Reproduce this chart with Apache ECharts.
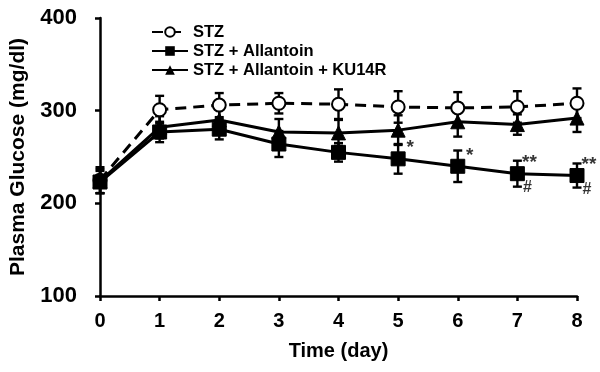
<!DOCTYPE html>
<html>
<head>
<meta charset="utf-8">
<script src="https://cdn.jsdelivr.net/npm/echarts@6/dist/echarts.min.js"></script>
<style>
html,body{margin:0;padding:0;background:#fff;}
#chart{width:600px;height:372px;}
</style>
</head>
<body>
<div id="chart"></div>
<script>
// ---- data ----
var days = [0, 1, 2, 3, 4, 5, 6, 7, 8];
var seriesNames = ['STZ', 'STZ + Allantoin', 'STZ + Allantoin + KU14R'];
var stzMean = [225, 301, 306, 308, 307, 304, 303, 304, 308];
var stzErr = [14, 15, 13, 11, 16, 17, 17, 17, 16];
var allMean = [223, 277, 280, 264, 255, 248, 240, 232, 230];
var allErr = [12, 11, 11, 14, 10, 16, 17, 14, 13];
var kuMean = [224, 282, 290, 277, 276, 279, 288, 285, 292];
var kuErr = [13, 12, 12, 14, 14, 16, 16, 11, 15];
var starMarks = ['', '', '', '', '', '*', '*', '**', '**'];
var hashMarks = ['', '', '', '', '', '', '', '#', '#'];
var yTicks = [100, 200, 300, 400];
var xTitle = 'Time (day)';
var yTitle = 'Plasma Glucose (mg/dl)';

var FONT = '"Liberation Sans", Arial, sans-serif';

function pairs(mean) { return days.map(function (d, i) { return [d, mean[i]]; }); }
function errData(mean, err) { return days.map(function (d, i) { return [d, mean[i], err[i]]; }); }

function errSeries(mean, err) {
  return {
    type: 'custom',
    z: 1,
    silent: true,
    data: errData(mean, err),
    renderItem: function (params, api) {
      var x = api.value(0), m = api.value(1), e = api.value(2);
      var top = api.coord([x, m + e]);
      var bot = api.coord([x, m - e]);
      var hw = 4.5;
      var st = { stroke: '#000', lineWidth: 2.4 };
      return {
        type: 'group',
        children: [
          { type: 'line', shape: { x1: top[0], y1: top[1], x2: bot[0], y2: bot[1] }, style: st },
          { type: 'line', shape: { x1: top[0] - hw, y1: top[1], x2: top[0] + hw, y2: top[1] }, style: st },
          { type: 'line', shape: { x1: bot[0] - hw, y1: bot[1], x2: bot[0] + hw, y2: bot[1] }, style: st }
        ]
      };
    }
  };
}

function markSeries(marks, dx, dy, size) {
  return {
    type: 'scatter',
    z: 5,
    silent: true,
    symbolSize: 0,
    data: days.map(function (d, i) { return [d, allMean[i]]; }),
    label: {
      show: true,
      position: 'inside',
      offset: [dx, dy],
      align: 'center',
      verticalAlign: 'middle',
      color: '#000',
      fontFamily: FONT,
      fontWeight: 'bold',
      fontSize: size,
      formatter: function (p) { return marks[p.dataIndex]; }
    }
  };
}

var chart = echarts.init(document.getElementById('chart'), null, { renderer: 'canvas' });
chart.setOption({
  backgroundColor: '#fff',
  animation: false,
  grid: { left: 95, right: 23, top: 18, bottom: 76, containLabel: false },
  legend: {
    orient: 'vertical',
    left: 146,
    top: 18,
    itemWidth: 36,
    itemHeight: 12,
    itemGap: 1,
    data: seriesNames,
    textStyle: { fontFamily: FONT, fontWeight: 'bold', fontSize: 16.5, color: '#000', lineHeight: 18 }
  },
  xAxis: {
    type: 'value',
    min: 0,
    max: 8,
    interval: 1,
    name: xTitle,
    nameLocation: 'middle',
    nameGap: 45,
    nameTextStyle: { fontFamily: FONT, fontWeight: 'bold', fontSize: 20, color: '#000' },
    axisLine: { show: true, onZero: false, lineStyle: { color: '#000', width: 2.5 } },
    axisTick: { show: true, length: 5, lineStyle: { color: '#000', width: 2.5 } },
    axisLabel: { fontFamily: FONT, fontWeight: 'bold', fontSize: 20, color: '#000', margin: 15 },
    splitLine: { show: false }
  },
  yAxis: {
    type: 'value',
    min: yTicks[0],
    max: yTicks[yTicks.length - 1],
    interval: 100,
    name: yTitle,
    nameLocation: 'middle',
    nameGap: 71,
    nameRotate: 90,
    nameTextStyle: { fontFamily: FONT, fontWeight: 'bold', fontSize: 21, color: '#000' },
    axisLine: { show: true, lineStyle: { color: '#000', width: 2.5 } },
    axisTick: { show: true, length: 5, lineStyle: { color: '#000', width: 2.5 } },
    axisLabel: { fontFamily: FONT, fontWeight: 'bold', fontSize: 22, color: '#000', margin: 23 },
    splitLine: { show: false }
  },
  series: [
    errSeries(stzMean, stzErr),
    errSeries(kuMean, kuErr),
    errSeries(allMean, allErr),
    {
      name: seriesNames[0],
      type: 'line',
      z: 2,
      data: pairs(stzMean),
      symbol: 'circle',
      symbolSize: 13,
      itemStyle: { color: '#fff', borderColor: '#000', borderWidth: 2 },
      lineStyle: { color: '#000', width: 3, type: [11, 7] }
    },
    {
      name: seriesNames[2],
      type: 'line',
      z: 3,
      data: pairs(kuMean),
      symbol: 'triangle',
      symbolSize: 14,
      itemStyle: { color: '#000', borderColor: '#000' },
      lineStyle: { color: '#000', width: 3 }
    },
    {
      name: seriesNames[1],
      type: 'line',
      z: 4,
      data: pairs(allMean),
      symbol: 'rect',
      symbolSize: 14,
      itemStyle: { color: '#000', borderColor: '#000' },
      lineStyle: { color: '#000', width: 3 }
    },
    markSeries(starMarks, 12, -11, 19),
    markSeries(hashMarks, 10, 14, 16)
  ]
});
</script>
</body>
</html>
